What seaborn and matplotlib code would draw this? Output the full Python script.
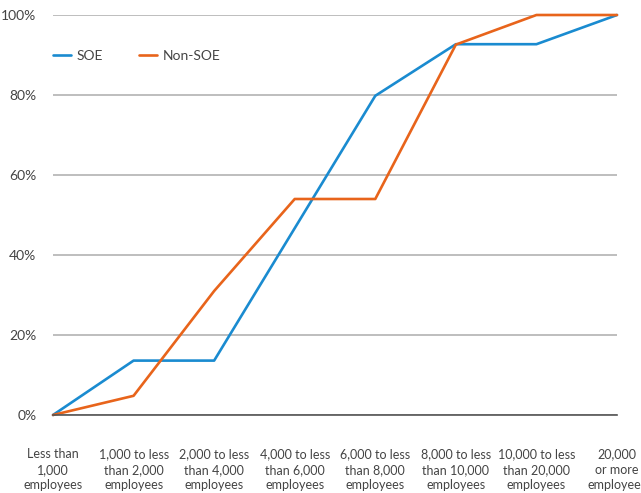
import matplotlib
matplotlib.use("Agg")
import matplotlib.pyplot as plt
import seaborn as sns
import pandas as pd

categories = [
    "Less than\n1,000\nemployees",
    "1,000 to less\nthan 2,000\nemployees",
    "2,000 to less\nthan 4,000\nemployees",
    "4,000 to less\nthan 6,000\nemployees",
    "6,000 to less\nthan 8,000\nemployees",
    "8,000 to less\nthan 10,000\nemployees",
    "10,000 to less\nthan 20,000\nemployees",
    "20,000\nor more\nemployees",
]
soe = [0, 13.6, 13.6, 46.7, 79.8, 92.7, 92.7, 100]
non_soe = [0, 4.8, 31.0, 54.0, 54.0, 92.6, 100, 100]

df = pd.DataFrame({
    "pos": list(range(len(categories))) * 2,
    "value": soe + non_soe,
    "group": ["SOE"] * len(soe) + ["Non-SOE"] * len(non_soe),
})

sns.set_theme(style="white")
plt.rcParams["font.family"] = ["Lato", "DejaVu Sans"]
plt.rcParams["text.color"] = "#444444"

fig = plt.figure(figsize=(6.41, 4.93), dpi=100)
ax = fig.add_axes([53 / 641, 78 / 493, 564 / 641, 400 / 493])

palette = {"SOE": "#1a8bd0", "Non-SOE": "#e8641b"}
sns.lineplot(data=df, x="pos", y="value", hue="group", palette=palette,
             linewidth=1.9, ax=ax, clip_on=False)

ax.set_xlim(0, len(categories) - 1)
ax.set_ylim(0, 100)
ax.set_yticks([0, 20, 40, 60, 80, 100])
ax.set_yticklabels([f"{v}%" for v in [0, 20, 40, 60, 80, 100]],
                   fontsize=10, color="#444444")
ax.set_xticks(range(len(categories)))
ax.set_xticklabels(categories, fontsize=9, color="#444444", linespacing=1.35)
ax.tick_params(axis="x", length=0, pad=24)
ax.tick_params(axis="y", length=0, pad=12)
ax.set_xlabel("")
ax.set_ylabel("")

ax.yaxis.grid(True, color="#b3b3b3", linewidth=1.2)
ax.set_axisbelow(True)
for s in ["top", "right", "left"]:
    ax.spines[s].set_visible(False)
ax.spines["bottom"].set_color("#555555")
ax.spines["bottom"].set_linewidth(1.2)

ax.legend(loc="upper left", bbox_to_anchor=(-0.022, 0.945), ncol=2,
          frameon=False, fontsize=10, handlelength=1.3, handletextpad=0.4,
          columnspacing=2.6)

fig.savefig("out.png", dpi=100)
